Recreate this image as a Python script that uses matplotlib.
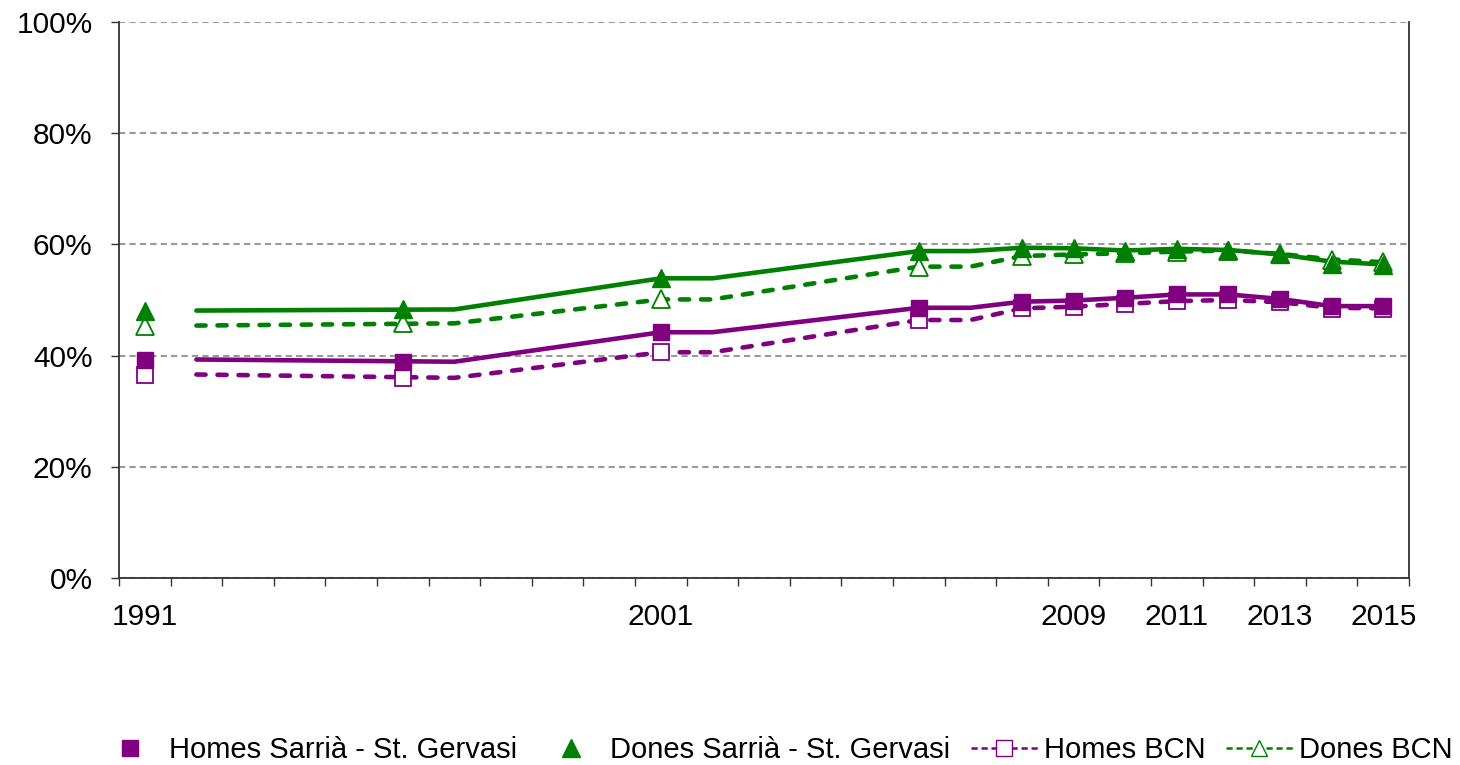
import matplotlib.pyplot as plt
from matplotlib.lines import Line2D
from matplotlib.ticker import FixedLocator, PercentFormatter

plt.rcParams['font.family'] = ['Liberation Sans', 'DejaVu Sans']

years = list(range(1991, 2016))
label_years = [1991, 2001, 2009, 2011, 2013, 2015]

# marker series (survey years)
mark_years = [1991, 1996, 2001, 2006, 2008, 2009, 2010, 2011, 2012, 2013, 2014, 2015]
homes_sarria = [39.2, 38.9, 44.2, 48.6, 49.7, 49.9, 50.4, 51.0, 51.0, 50.2, 48.9, 48.9]
dones_sarria = [48.0, 48.4, 53.9, 58.8, 59.4, 59.3, 58.9, 59.2, 59.0, 58.2, 56.4, 56.3]
homes_bcn = [36.6, 36.0, 40.6, 46.4, 48.5, 48.8, 49.3, 49.8, 50.0, 49.6, 48.4, 48.4]
dones_bcn = [45.3, 45.8, 50.1, 56.0, 57.9, 58.2, 58.4, 58.7, 58.9, 58.3, 57.2, 56.8]

# line series (drawn on their own points)
line_years = [1992, 1997, 2001, 2002, 2006, 2007, 2008, 2009, 2010, 2011, 2012, 2013, 2014, 2015]
homes_sarria_line = [39.3, 38.9, 44.2, 44.2, 48.6, 48.6, 49.7, 49.9, 50.4, 51.0, 51.0, 50.2, 48.9, 48.9]
dones_sarria_line = [48.1, 48.3, 53.9, 53.9, 58.8, 58.8, 59.4, 59.3, 58.9, 59.2, 59.0, 58.2, 56.9, 56.4]
homes_bcn_line = [36.6, 36.0, 40.6, 40.6, 46.4, 46.4, 48.5, 48.8, 49.3, 49.8, 50.0, 49.6, 48.6, 48.5]
dones_bcn_line = [45.4, 45.8, 50.1, 50.1, 56.0, 56.0, 57.9, 58.2, 58.4, 58.7, 58.9, 58.3, 57.3, 56.8]

purple = '#800080'
green = '#008000'


def xi(ys):
    return [years.index(y) for y in ys]


fig = plt.figure(figsize=(14.6, 7.65), dpi=100)
ax = fig.add_axes([119/1460, 1-578/765, 1290/1460, 556/765])

ax.plot(xi(line_years), homes_sarria_line, color=purple, lw=3.3, solid_capstyle='round', zorder=3)
ax.plot(xi(line_years), dones_sarria_line, color=green, lw=3.3, solid_capstyle='round', zorder=3)
ax.plot(xi(line_years), homes_bcn_line, color=purple, lw=3.3, dashes=(2.0, 2.6),
        dash_capstyle='round', zorder=3)
ax.plot(xi(line_years), dones_bcn_line, color=green, lw=3.3, dashes=(2.0, 2.6),
        dash_capstyle='round', zorder=3)

ax.plot(xi(mark_years), homes_bcn, ls='none', marker='s', ms=12, mfc='white', mec=purple, mew=1.3, zorder=4)
ax.plot(xi(mark_years), dones_bcn, ls='none', marker='^', ms=12.5, mfc='white', mec=green, mew=1.3, zorder=4)
ax.plot(xi(mark_years), homes_sarria, ls='none', marker='s', ms=12, color=purple, zorder=5)
ax.plot(xi(mark_years), dones_sarria, ls='none', marker='^', ms=13, color=green, zorder=5)

ax.set_xlim(-0.5, len(years) - 0.5)
ax.set_ylim(0, 100)
ax.set_yticks([0, 20, 40, 60, 80, 100])
ax.yaxis.set_major_formatter(PercentFormatter(decimals=0))
ax.yaxis.grid(True, color='#999999', ls=(0, (3, 2)), lw=1.5)
ax.set_axisbelow(True)

ax.xaxis.set_major_locator(FixedLocator([i - 0.5 for i in range(len(years) + 1)]))
ax.xaxis.set_major_formatter(plt.NullFormatter())
ax.xaxis.set_minor_locator(FixedLocator(xi(label_years)))
ax.set_xticklabels([str(y) for y in label_years], minor=True)
ax.tick_params(axis='x', which='major', length=6, width=1, color='#333333')
ax.tick_params(axis='x', which='minor', length=0, pad=18, labelsize=21.5)
ax.tick_params(axis='y', length=6, width=1, color='#333333', pad=13, labelsize=21.5)

ax.spines['top'].set_visible(False)
for s in ['left', 'bottom', 'right']:
    ax.spines[s].set_color('#333333')
    ax.spines[s].set_linewidth(1.3)

handles = [
    Line2D([], [], ls='none', marker='s', ms=12, color=purple),
    Line2D([], [], ls='none', marker='^', ms=13, color=green),
    Line2D([], [], color=purple, lw=1.8, ls=(0, (2.5, 1.5)), marker='s', ms=11, mfc='white', mec=purple),
    Line2D([], [], color=green, lw=1.8, ls=(0, (2.5, 1.5)), marker='^', ms=12, mfc='white', mec=green),
]
labels = ['Homes Sarrià - St. Gervasi', 'Dones Sarrià - St. Gervasi', 'Homes BCN', 'Dones BCN']
fig.legend(handles, labels, loc='center left', bbox_to_anchor=(96/1460, 1 - 750/765), ncol=4,
           frameon=False, fontsize=21, handlelength=2.3, handletextpad=0.2, columnspacing=0.7,
           borderpad=0, borderaxespad=0)

fig.savefig('out.png', dpi=100)
